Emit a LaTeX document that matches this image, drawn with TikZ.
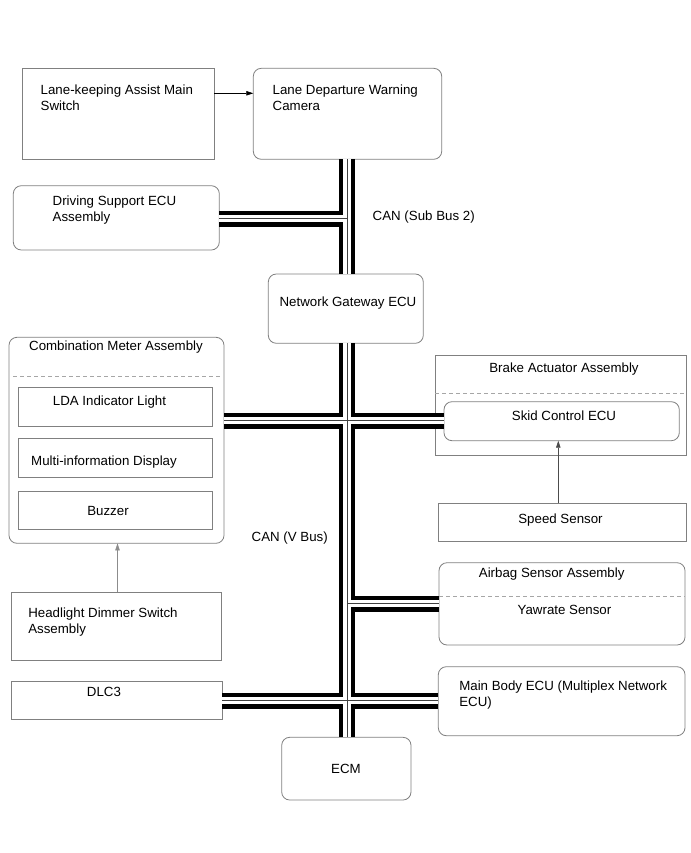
\documentclass[tikz,border=0pt]{standalone}
\usepackage{fontspec}
\setmainfont{Liberation Sans}
\usetikzlibrary{arrows.meta}
\begin{document}
\begin{tikzpicture}[x=1pt,y=-1pt,
  box/.style={draw=black!50, line width=0.8pt, inner sep=0pt, outer sep=0pt, rectangle, anchor=north west},
  rbox/.style={box, rounded corners=8pt},
  lbl/.style={inner sep=0pt, outer sep=0pt, font=\fontsize{13.3}{16}\selectfont, anchor=base west},
  clbl/.style={lbl, anchor=base},
  dsh/.style={draw=black!35, line width=0.8pt, dash pattern=on 4pt off 3pt},
  arr/.style={line width=0.6pt, -{Triangle[length=7pt,width=4.5pt]}}]
\useasboundingbox[fill=white] (0,0) rectangle (690,853);
% boxes
\node[box,  minimum width=191.6pt, minimum height=91pt]   (sw)   at (22.7,68.3) {};
\node[rbox, minimum width=188.4pt, minimum height=91pt]   (cam)  at (253.3,68.3) {};
\node[rbox, minimum width=206pt,   minimum height=64.3pt] (dse)  at (13.3,185.7) {};
\node[rbox, minimum width=155pt,   minimum height=69.3pt] (gw)   at (268.3,274) {};
\node[rbox, minimum width=215pt,   minimum height=206pt]  (cmb)  at (9,337.3) {};
\node[box,  minimum width=194pt,   minimum height=38.7pt] (lda)  at (18.3,387.3) {};
\node[box,  minimum width=194pt,   minimum height=39.3pt] (mid)  at (18.3,438.5) {};
\node[box,  minimum width=194pt,   minimum height=37.6pt] (buz)  at (18.3,491.7) {};
\node[box,  minimum width=210pt,   minimum height=68.4pt] (hl)   at (11,592.3) {};
\node[box,  minimum width=211pt,   minimum height=37.3pt] (dlc)  at (11,681.7) {};
\node[rbox, minimum width=129.3pt, minimum height=62.7pt] (ecm)  at (281.7,737.3) {};
\node[box,  minimum width=251.7pt, minimum height=100pt]  (bra)  at (435,355) {};
\node[rbox, minimum width=235.3pt, minimum height=39pt]   (skid) at (444,401.7) {};
\node[box,  minimum width=248.4pt, minimum height=38.4pt] (spd)  at (438.3,503.3) {};
\node[rbox, minimum width=246pt,   minimum height=82.3pt] (air)  at (439,562.7) {};
\node[rbox, minimum width=246.7pt, minimum height=69pt]   (mb)   at (438.3,666.7) {};
% dashed separators
\draw[dsh] ([xshift=4pt]cmb.west |- 0,376.7) -- ([xshift=-2pt]cmb.east |- 0,376.7);
\draw[dsh] (bra.west |- 0,393.3) -- (bra.east |- 0,393.3);
\draw[dsh] (air.west |- 0,596.7) -- (air.east |- 0,596.7);
% texts
\node[lbl]  (t1a) at (40.7,95)    {Lane-keeping Assist Main};
\node[lbl]  (t1b) at (40.7,110.5) {Switch};
\node[lbl]  (t2a) at (272.7,94.3) {Lane Departure Warning};
\node[lbl]  (t2b) at (272.7,110.3){Camera};
\node[lbl]  (t3a) at (52.7,205)   {Driving Support ECU};
\node[lbl]  (t3b) at (52.7,221.5) {Assembly};
\node[lbl]  (t4)  at (372.7,220.7){CAN (Sub Bus 2)};
\node[clbl] (t5)  at (348,306.7)  {Network Gateway ECU};
\node[clbl] (t6)  at (116,350)    {Combination Meter Assembly};
\node[clbl] (t7)  at (109.5,405)  {LDA Indicator Light};
\node[clbl] (t8)  at (104,465)    {Multi-information Display};
\node[clbl] (t9)  at (108,515)    {Buzzer};
\node[lbl]  (t10) at (251.7,541.7){CAN (V Bus)};
\node[lbl]  (t11a) at (28.3,617.3){Headlight Dimmer Switch};
\node[lbl]  (t11b) at (28.3,633.3){Assembly};
\node[clbl] (t12) at (104,696.7)  {DLC3};
\node[clbl] (t13) at (346,773.3)  {ECM};
\node[clbl] (t14) at (564,372.7)  {Brake Actuator Assembly};
\node[clbl] (t15) at (564,420.7)  {Skid Control ECU};
\node[clbl] (t16) at (560.5,523.3){Speed Sensor};
\node[clbl] (t17) at (551.7,577.3){Airbag Sensor Assembly};
\node[clbl] (t18) at (564.5,614)  {Yawrate Sensor};
\node[lbl]  (t19a) at (459.3,690) {Main Body ECU (Multiplex Network};
\node[lbl]  (t19b) at (459.3,706) {ECU)};
% arrows
\draw[arr] ([yshift=20.5pt]sw.east) -- ([yshift=20.5pt]cam.west);
\draw[arr, draw=black!45] ([xshift=1.5pt]hl.north) -- ([xshift=1.5pt]hl.north |- cmb.south);
\draw[arr, draw=black!70] ([xshift=-4.2pt]spd.north) -- ([xshift=-4.2pt]spd.north |- skid.south);
% bus
\coordinate (bx) at (347,0);
\coordinate (ya) at (0,218.5);
\coordinate (yb) at (0,420.5);
\coordinate (yc) at (0,603.5);
\coordinate (yd) at (0,700.5);
\foreach \w/\c in {16/black, 7.6/white, 0.9/black!75}{
  \draw[line width=\w pt, draw=\c, line cap=butt]
    (cam.south -| bx) -- (gw.north -| bx)
    (dse.east |- ya) -- (bx |- ya)
    (gw.south -| bx) -- (ecm.north -| bx)
    (cmb.east |- yb) -- (skid.west |- yb)
    (bx |- yc) -- (air.west |- yc)
    (dlc.east |- yd) -- (mb.west |- yd);
}
\end{tikzpicture}
\end{document}
